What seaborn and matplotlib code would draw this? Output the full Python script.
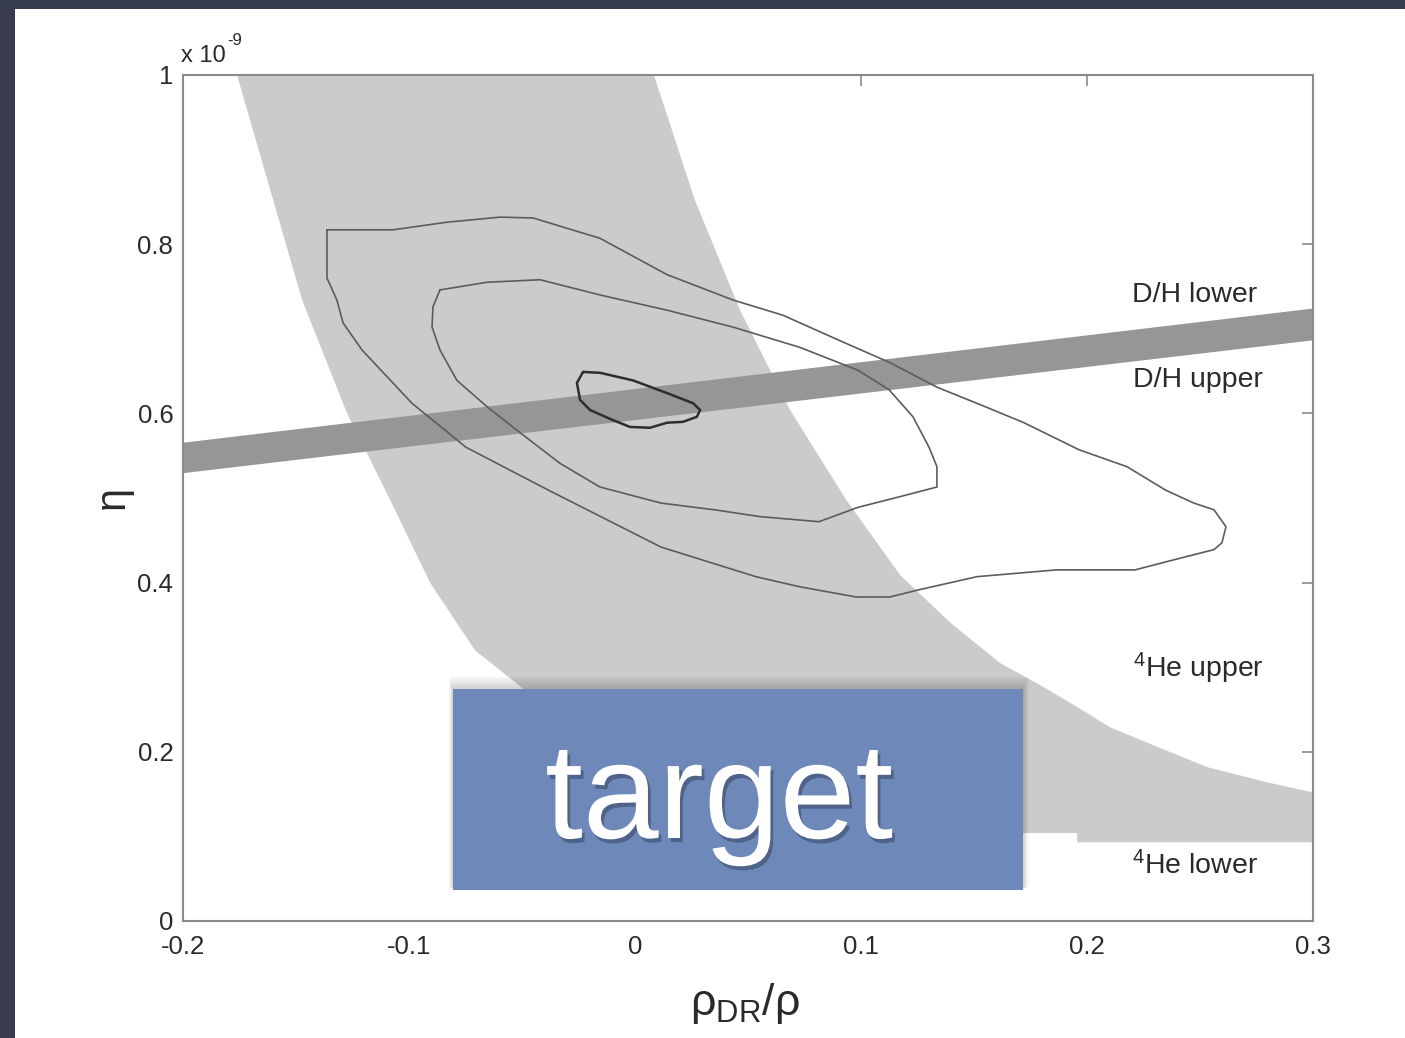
import numpy as np
import pandas as pd
import matplotlib
matplotlib.use("Agg")
import matplotlib.pyplot as plt
import seaborn as sns
from matplotlib.patches import Rectangle
import matplotlib.patheffects as pe

# ---------------- data (x = rho_DR/rho, eta in units of 1e-9) ----------------
he_lower_x = [-0.1761, -0.1473, -0.1274, -0.1084, -0.0907, -0.0708, -0.0487, -0.020, 0.020, 0.060, 0.100]
he_lower_eta = [1.000, 0.734, 0.600, 0.498, 0.400, 0.320, 0.273, 0.220, 0.170, 0.130, 0.104]
he_floor_x = [0.100, 0.1956, 0.1956, 0.300]
he_floor_eta = [0.104, 0.104, 0.093, 0.093]
he_upper_x = [0.300, 0.2796, 0.2531, 0.2310, 0.2102, 0.1956, 0.1805, 0.1615, 0.1398,
              0.1173, 0.0934, 0.0686, 0.0465, 0.0265, 0.0084]
he_upper_eta = [0.152, 0.164, 0.182, 0.206, 0.229, 0.253, 0.277, 0.305, 0.352,
                0.409, 0.498, 0.604, 0.722, 0.852, 1.000]

dh_x = [-0.2, 0.3]
dh_low = [0.530, 0.687]
dh_high = [0.566, 0.7246]

outer_x = [-0.1363, -0.1071, -0.0832, -0.0597, -0.0451, -0.0155, 0.0142, 0.0434, 0.0655, 0.0898,
           0.1128, 0.1336, 0.1549, 0.1721, 0.1965, 0.2177, 0.2350, 0.2473, 0.2562, 0.2615,
           0.2597, 0.2562, 0.2385, 0.2212, 0.1863, 0.1513, 0.1248, 0.1128, 0.0978, 0.0730,
           0.0535, 0.0115, -0.0381, -0.0748, -0.0987, -0.1208, -0.1292, -0.1319, -0.1363, -0.1363]
outer_eta = [0.817, 0.817, 0.826, 0.832, 0.831, 0.807, 0.764, 0.734, 0.716, 0.687,
             0.660, 0.631, 0.608, 0.589, 0.557, 0.537, 0.509, 0.494, 0.486, 0.466,
             0.447, 0.439, 0.427, 0.415, 0.415, 0.407, 0.391, 0.383, 0.383, 0.395,
             0.407, 0.442, 0.509, 0.560, 0.612, 0.675, 0.707, 0.734, 0.760, 0.817]

middle_x = [-0.0863, -0.0655, -0.0420, -0.0155, 0.0142, 0.0434, 0.0730, 0.0987, 0.1124, 0.1230,
            0.1301, 0.1336, 0.1336, 0.1164, 0.0987, 0.0814, 0.0553, 0.0354, 0.0115, -0.0155,
            -0.0332, -0.0522, -0.0655, -0.0788, -0.0863, -0.0898, -0.0894, -0.0863]
middle_eta = [0.746, 0.755, 0.758, 0.740, 0.722, 0.702, 0.678, 0.651, 0.628, 0.596,
              0.560, 0.537, 0.513, 0.501, 0.489, 0.472, 0.478, 0.486, 0.494, 0.513,
              0.541, 0.580, 0.608, 0.639, 0.675, 0.702, 0.726, 0.746]

inner_x = [-0.0230, -0.0155, -0.0009, 0.0142, 0.0257, 0.0288, 0.0274, 0.0212, 0.0142, 0.0066,
           -0.0022, -0.0097, -0.0199, -0.0243, -0.0257, -0.0230]
inner_eta = [0.649, 0.648, 0.639, 0.624, 0.612, 0.604, 0.596, 0.590, 0.589, 0.583,
             0.584, 0.592, 0.604, 0.616, 0.636, 0.649]

x_ticks = [-0.2, -0.1, 0.0, 0.1, 0.2, 0.3]
x_tick_labels = ["-0.2", "-0.1", "0", "0.1", "0.2", "0.3"]
y_ticks = [0.0, 0.2, 0.4, 0.6, 0.8, 1.0]
y_tick_labels = ["0", "0.2", "0.4", "0.6", "0.8", "1"]

labels_text = ["D/H lower", "D/H upper", "$^{4}$He upper", "$^{4}$He lower"]
labels_x = [0.2478, 0.2491, 0.2491, 0.2478]
labels_eta = [0.740, 0.6395, 0.299, 0.065]

# ---------------- style ----------------
sns.set_theme(style="white")
plt.rcParams["font.family"] = ["Liberation Sans", "DejaVu Sans"]
plt.rcParams["mathtext.fontset"] = "custom"
plt.rcParams["mathtext.rm"] = "Liberation Sans"
plt.rcParams["mathtext.it"] = "Liberation Sans:italic"
plt.rcParams["mathtext.bf"] = "Liberation Sans:bold"

W, H = 1405, 1038
fig = plt.figure(figsize=(W / 100, H / 100), dpi=100, facecolor="#383d4d")
fig.patches.append(Rectangle((15 / W, 0), 1 - 15 / W, 1 - 9 / H, transform=fig.transFigure,
                             facecolor="white", edgecolor="none", zorder=-10))

ax = fig.add_axes([183 / W, 1 - 921 / H, 1130 / W, 846 / H])
ax.set_facecolor("white")

# He band
band_x = he_lower_x + he_floor_x + he_upper_x
band_y = he_lower_eta + he_floor_eta + he_upper_eta
ax.fill(band_x, band_y, color="#cbcbcb", lw=0, zorder=1)

# D/H band
ax.fill_between(dh_x, dh_low, dh_high, color="#969696", lw=0, zorder=2)

# contours
for cx, cy, col, lw in [(outer_x, outer_eta, "#5c5c5c", 1.2),
                        (middle_x, middle_eta, "#5c5c5c", 1.2),
                        (inner_x, inner_eta, "#2e2e2e", 1.8)]:
    df = pd.DataFrame({"x": cx, "eta": cy})
    sns.lineplot(data=df, x="x", y="eta", sort=False, estimator=None, color=col,
                 lw=lw, ax=ax, zorder=3)

ax.set_xlim(-0.2, 0.3)
ax.set_ylim(0, 1)
ax.set_xticks(x_ticks)
ax.set_xticklabels(x_tick_labels)
ax.set_yticks(y_ticks)
ax.set_yticklabels(y_tick_labels)
ax.set_xlabel("")
ax.set_ylabel("")
ax.tick_params(direction="in", length=8, width=1.2, color="#8a8a8a", top=True, right=True,
               labelsize=18.5, labelcolor="#2a2a2a")
ax.tick_params(axis="x", pad=10)
ax.tick_params(axis="y", pad=7)
for s in ax.spines.values():
    s.set_color("#8a8a8a")
    s.set_linewidth(1.5)
    s.set_visible(True)

for t, tx, ty in zip(labels_text, labels_x, labels_eta):
    ax.text(tx, ty, t, ha="center", va="center", fontsize=20.5, color="#2a2a2a", zorder=4)

ax.text(-0.002, 1.015, "x 10", transform=ax.transAxes, ha="left",
        va="baseline", fontsize=17, color="#2a2a2a")
ax.text(0.0395, 1.036, "-9", transform=ax.transAxes, ha="left",
        va="baseline", fontsize=12, color="#2a2a2a")
ax.text(-0.062, 0.501, "η", transform=ax.transAxes, rotation=90, ha="center", va="center",
        fontsize=30, color="#2a2a2a")
ax.text(0.497, -0.097, r"$\mathregular{ρ_{DR}/ρ}$", transform=ax.transAxes, ha="center",
        va="center", fontsize=32, color="#2a2a2a")

# "target" overlay box with soft shadow
bx0, by0, bw, bh = 453 / W, 1 - 890 / H, 570 / W, 201 / H
for k in range(1, 6):
    dx = k * 1.6 / W
    dy = k * 2.0 / H
    fig.patches.append(Rectangle((bx0 - dx * 0.5, by0 + dy * 0.3), bw + dx * 1.2, bh + dy * 0.9,
                                 transform=fig.transFigure, facecolor="#000000", alpha=0.035,
                                 edgecolor="none", zorder=9))
fig.patches.append(Rectangle((bx0, by0), bw, bh, transform=fig.transFigure,
                             facecolor="#6e88b9", edgecolor="none", zorder=10))
fig.text(719 / W, 1 - 838 / H, "target", ha="center", va="baseline", fontsize=98,
         color="white", zorder=11,
         path_effects=[pe.withSimplePatchShadow(offset=(2, -3), shadow_rgbFace="#2a3550", alpha=0.45)])

fig.savefig("out.png", dpi=100, facecolor=fig.get_facecolor())
